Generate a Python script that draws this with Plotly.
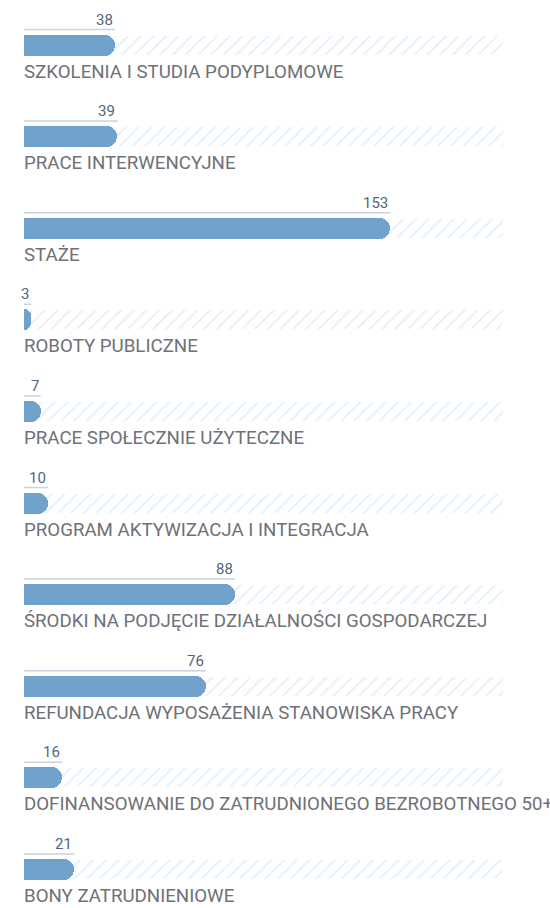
import plotly.graph_objects as go

# Liczba osób objętych formami aktywizacji
categories = [
    "SZKOLENIA I STUDIA PODYPLOMOWE",
    "PRACE INTERWENCYJNE",
    "STAŻE",
    "ROBOTY PUBLICZNE",
    "PRACE SPOŁECZNIE UŻYTECZNE",
    "PROGRAM AKTYWIZACJA I INTEGRACJA",
    "ŚRODKI NA PODJĘCIE DZIAŁALNOŚCI GOSPODARCZEJ",
    "REFUNDACJA WYPOSAŻENIA STANOWISKA PRACY",
    "DOFINANSOWANIE DO ZATRUDNIONEGO BEZROBOTNEGO 50+",
    "BONY ZATRUDNIENIOWE",
]
values = [38, 39, 153, 3, 7, 10, 88, 76, 16, 21]
scale_max = 200

BAR = "#70a2cc"
HATCH = "#c8e0f5"
RULE = "#c9d2de"
VALUE_TXT = "#52657d"
LABEL_TXT = "#6e7177"
FONT = "Roboto, 'DejaVu Sans', sans-serif"

rows = list(range(len(categories)))
ROW_PX = 91.6          # vertical distance between rows in pixels
top_px = 45            # pixel centre of the first bar
H = 908


def off(px):
    return px / ROW_PX


fig = go.Figure()

# hatched background track (base y axis, drawn underneath)
fig.add_trace(go.Bar(
    y=rows, x=[scale_max] * len(rows), orientation="h",
    width=off(19),
    marker=dict(color="white", line=dict(width=0),
                pattern=dict(shape="/", fgcolor=HATCH, bgcolor="white",
                             size=9, solidity=0.2)),
    hoverinfo="skip", showlegend=False,
))

# value bars with a rounded end, on an overlaid y axis so they sit on top
fig.add_trace(go.Bar(
    y=rows, x=values, orientation="h", yaxis="y2",
    width=off(21),
    marker=dict(color=BAR, line=dict(width=0), cornerradius=10),
    hovertemplate="%{x}<extra></extra>", showlegend=False,
))

# thin rule above each bar, running to the bar end
lx, ly = [], []
for r, v in zip(rows, values):
    lx += [0, v, None]
    ly += [r - off(15.5), r - off(15.5), None]
fig.add_trace(go.Scatter(
    x=lx, y=ly, mode="lines", line=dict(color=RULE, width=1.5),
    hoverinfo="skip", showlegend=False, cliponaxis=False,
))

# value labels sitting on the rule
for r, v in zip(rows, values):
    fig.add_annotation(
        x=v, y=r - off(15.5), text=str(v), showarrow=False,
        xanchor="right", yanchor="bottom", yshift=-1,
        font=dict(family=FONT, size=15, color=VALUE_TXT),
    )

# category names below the bars
fig.add_trace(go.Scatter(
    x=[0] * len(rows), y=[r + off(28) for r in rows],
    mode="text", text=categories, textposition="middle right",
    textfont=dict(family=FONT, size=18.7, color=LABEL_TXT),
    hoverinfo="skip", showlegend=False, cliponaxis=False,
))

y_top = -top_px / ROW_PX
y_bot = (H - top_px) / ROW_PX

fig.update_layout(
    width=550, height=H,
    margin=dict(l=24, r=47, t=0, b=0),
    paper_bgcolor="white", plot_bgcolor="white",
    barmode="overlay", bargap=0,
    xaxis=dict(range=[0, scale_max], visible=False, fixedrange=True),
    yaxis=dict(range=[y_bot, y_top], visible=False, fixedrange=True),
    yaxis2=dict(range=[y_bot, y_top], visible=False, fixedrange=True,
                overlaying="y"),
)

fig.write_html("out.html")
